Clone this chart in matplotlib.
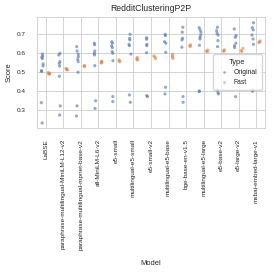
import numpy as np
import pandas as pd
import matplotlib
matplotlib.use("Agg")
import matplotlib.pyplot as plt
import seaborn as sns

models = [
    "LaBSE",
    "paraphrase-multilingual-MiniLM-L12-v2",
    "paraphrase-multilingual-mpnet-base-v2",
    "all-MiniLM-L6-v2",
    "e5-small",
    "multilingual-e5-small",
    "e5-small-v2",
    "multilingual-e5-base",
    "bge-base-en-v1.5",
    "multilingual-e5-large",
    "e5-base-v2",
    "e5-large-v2",
    "mxbai-embed-large-v1",
]

# scores, one list per model
original = [
    [0.596, 0.586, 0.579, 0.572, 0.544, 0.533, 0.509, 0.504, 0.340, 0.233],
    [0.600, 0.591, 0.556, 0.547, 0.533, 0.479, 0.323, 0.275],
    [0.635, 0.612, 0.595, 0.582, 0.568, 0.556, 0.500, 0.323, 0.270],
    [0.653, 0.645, 0.612, 0.600, 0.591, 0.535, 0.350, 0.310],
    [0.661, 0.653, 0.639, 0.630, 0.609, 0.600, 0.561, 0.372, 0.346],
    [0.700, 0.679, 0.670, 0.647, 0.640, 0.596, 0.381, 0.342],
    [0.682, 0.674, 0.647, 0.640, 0.603, 0.377, 0.372],
    [0.700, 0.693, 0.661, 0.653, 0.605, 0.421, 0.386],
    [0.737, 0.711, 0.679, 0.670, 0.632, 0.372, 0.342],
    [0.735, 0.723, 0.711, 0.696, 0.684, 0.675, 0.642, 0.402, 0.398],
    [0.737, 0.719, 0.705, 0.696, 0.667, 0.635, 0.407, 0.393, 0.386],
    [0.728, 0.693, 0.684, 0.653, 0.640, 0.630, 0.372],
    [0.761, 0.735, 0.723, 0.696, 0.675, 0.647, 0.407, 0.400],
]
fast = [
    [0.498, 0.495, 0.492, 0.490, 0.494],
    [0.520, 0.515, 0.512, 0.517],
    [0.535, 0.530, 0.533],
    [0.556, 0.552, 0.558, 0.549],
    [0.565, 0.555, 0.560],
    [0.578, 0.565, 0.572, 0.568],
    [0.586, 0.572, 0.580],
    [0.595, 0.580, 0.588, 0.573],
    [0.645, 0.635, 0.640],
    [0.617, 0.608, 0.612],
    [0.618, 0.610, 0.614],
    [0.626, 0.609, 0.615],
    [0.665, 0.656, 0.660],
]

rows = []
for m, o, f in zip(models, original, fast):
    rows += [(m, v, "Original") for v in o]
    rows += [(m, v, "Fast") for v in f]
df = pd.DataFrame(rows, columns=["Model", "Score", "Type"])

sns.set_theme(style="whitegrid")
plt.rcParams["font.family"] = ["Liberation Sans", "DejaVu Sans"]
np.random.seed(3)

fig = plt.figure(figsize=(2.74, 2.74), dpi=100)
ax = fig.add_axes([0.135, 0.533, 0.832, 0.405])
sns.stripplot(data=df, x="Model", y="Score", hue="Type", dodge=True,
              size=2.3, alpha=0.6, jitter=0.12, ax=ax)

ax.set_ylim(0.207, 0.791)
ax.set_yticks([0.3, 0.4, 0.5, 0.6, 0.7])
ax.tick_params(axis="both", labelsize=4.6, pad=2)
ax.tick_params(axis="x", rotation=90)
ax.set_title("RedditClusteringP2P", fontsize=6.2, pad=4)
ax.set_xlabel("Model", fontsize=5.4, labelpad=7)
ax.set_ylabel("Score", fontsize=5.4, labelpad=3)
for s in ax.spines.values():
    s.set_linewidth(0.6)
ax.grid(linewidth=0.6)

leg = ax.legend(title="Type", fontsize=4.9, title_fontsize=5.4,
                loc="center right", bbox_to_anchor=(1.0, 0.5),
                markerscale=0.8, handletextpad=0.4, borderpad=0.6)

fig.savefig("out.png", dpi=100)
